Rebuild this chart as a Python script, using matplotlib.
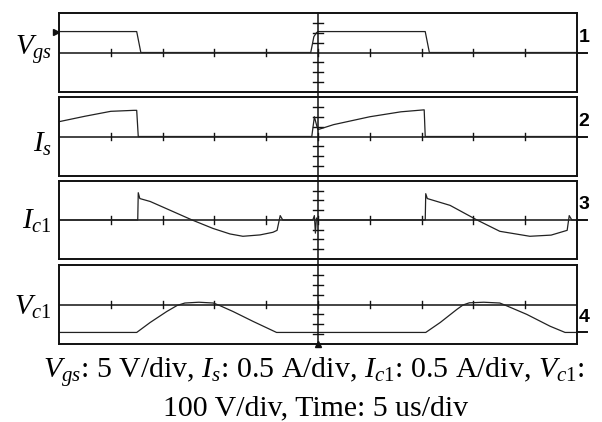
import numpy as np
import matplotlib
matplotlib.use("Agg")
import matplotlib.pyplot as plt
from matplotlib.lines import Line2D

plt.rcParams['font.family'] = ['Liberation Serif', 'DejaVu Serif']
plt.rcParams['mathtext.fontset'] = 'custom'
plt.rcParams['mathtext.rm'] = 'Liberation Serif'
plt.rcParams['mathtext.it'] = 'Liberation Serif:italic'

# scope traces, x in divisions (0..10), y in divisions from panel centre
vgs_x = [0, 1.50, 1.58, 4.86, 4.92, 4.97, 5.00, 7.07, 7.15, 10]
vgs_y = [2.12, 2.12, 0, 0, 1.6, 2.0, 2.12, 2.12, 0, 0]

is_x = [0, 0.5, 1.0, 1.45, 1.50, 1.53, 4.88, 4.93, 4.98, 5.00, 5.3, 6.0, 6.6, 7.05, 7.07, 10]
is_y = [1.5, 2.05, 2.55, 2.65, 2.65, 0, 0, 2.0, 1.0, 0.7, 1.2, 2.0, 2.5, 2.7, 0, 0]

ic_x = [0, 1.52, 1.53, 1.56, 1.76, 2.08, 2.57, 2.97, 3.30, 3.55, 3.88, 4.13, 4.21, 4.27, 4.32,
        4.90, 4.93, 4.95, 4.97, 5.00,
        7.07, 7.08, 7.11, 7.55, 8.07, 8.51, 9.09, 9.50, 9.81, 9.85, 9.90, 10]
ic_y = [0, 0, 2.8, 2.2, 1.9, 1.15, 0, -0.86, -1.43, -1.67, -1.53, -1.26, -1.06, 0.45, 0,
        0, 0.45, -1.35, 0.2, 0,
        0, 2.7, 2.2, 1.5, 0, -1.16, -1.67, -1.55, -1.06, 0.45, 0, 0]

vc_x = [0, 1.50, 1.76, 2.08, 2.28, 2.43, 2.70, 2.98, 3.10, 3.36, 3.75, 4.20,
        7.08, 7.36, 7.68, 7.80, 7.92, 8.20, 8.51, 8.65, 9.03, 9.48, 9.77, 10]
vc_y = [-2.83, -2.83, -1.82, -0.71, -0.1, 0.15, 0.23, 0.15, -0.1, -0.71, -1.72, -2.83,
        -2.83, -1.82, -0.5, -0.05, 0.17, 0.23, 0.15, -0.15, -1.0, -2.2, -2.83, -2.83]

traces = [(vgs_x, vgs_y), (is_x, is_y), (ic_x, ic_y), (vc_x, vc_y)]
labels = [r'$V_{gs}$', r'$I_{s}$', r'$I_{\mathit{c1}}$', r'$V_{\mathit{c1}}$']
label_y = [-0.2, -1.5, -0.95, -1.0]
ground = [0, 0, 0, -2.83]
channels = ['1', '2', '3', '4']
caption1 = r'$V_{gs}$: 5 V/div, $I_{s}$: 0.5 A/div, $I_{\mathit{c1}}$: 0.5 A/div, $V_{\mathit{c1}}$:'
caption2 = '100 V/div, Time: 5 us/div'

W, H = 602, 422
fig = plt.figure(figsize=(W / 100, H / 100), dpi=100)

panels_px = [(13, 92), (97, 176), (181, 259), (265, 344)]
left_px, right_px = 59, 577
ink = '#111111'

axes = []
for k, (top, bot) in enumerate(panels_px):
    ax = fig.add_axes([left_px / W, 1 - bot / H, (right_px - left_px) / W, (bot - top) / H])
    ax.set_xlim(0, 10)
    ax.set_ylim(-4, 4)
    ax.set_xticks([])
    ax.set_yticks([])
    for s in ax.spines.values():
        s.set_linewidth(1.4)
        s.set_color(ink)
    ax.axhline(0, color=ink, lw=1.1)
    for xt in range(1, 10):
        ax.plot([xt, xt], [-0.4, 0.4], color=ink, lw=1.0)
    for yt in [-3, -2, -1, 1, 2, 3]:
        ax.plot([4.9, 5.1], [yt, yt], color=ink, lw=1.0)
    x, y = traces[k]
    ax.plot(x, y, color='#222222', lw=0.9)
    ax.text(-0.013, label_y[k], labels[k], transform=ax.get_yaxis_transform(),
            ha='right', va='baseline', fontsize=21)
    # channel ground marker on the right
    ax.plot([10, 10.19], [ground[k], ground[k]], color=ink, lw=1.4, clip_on=False)
    ax.text(10.03, ground[k] + 0.7, channels[k], ha='left', va='bottom', fontsize=14,
            fontweight='bold', family=['Liberation Sans Narrow', 'Liberation Sans'])
    axes.append(ax)

# trigger level marker on channel 1
axes[0].plot([-0.05], [2.12], marker='>', color=ink, ms=5, clip_on=False)
# trigger position marker at bottom centre
axes[3].plot([5], [-4], marker='^', color=ink, ms=5, clip_on=False)

# centre vertical graticule line across all panels
xc = (left_px + right_px) / 2 / W
fig.add_artist(Line2D([xc, xc], [1 - 345 / H, 1 - 13 / H], color=ink, lw=1.1,
                      transform=fig.transFigure))

fig.text(314 / W, 1 - 378 / H, caption1, ha='center', va='baseline', fontsize=21.5)
fig.text(316 / W, 1 - 415 / H, caption2, ha='center', va='baseline', fontsize=21.5)

fig.savefig('out.png', dpi=100)
